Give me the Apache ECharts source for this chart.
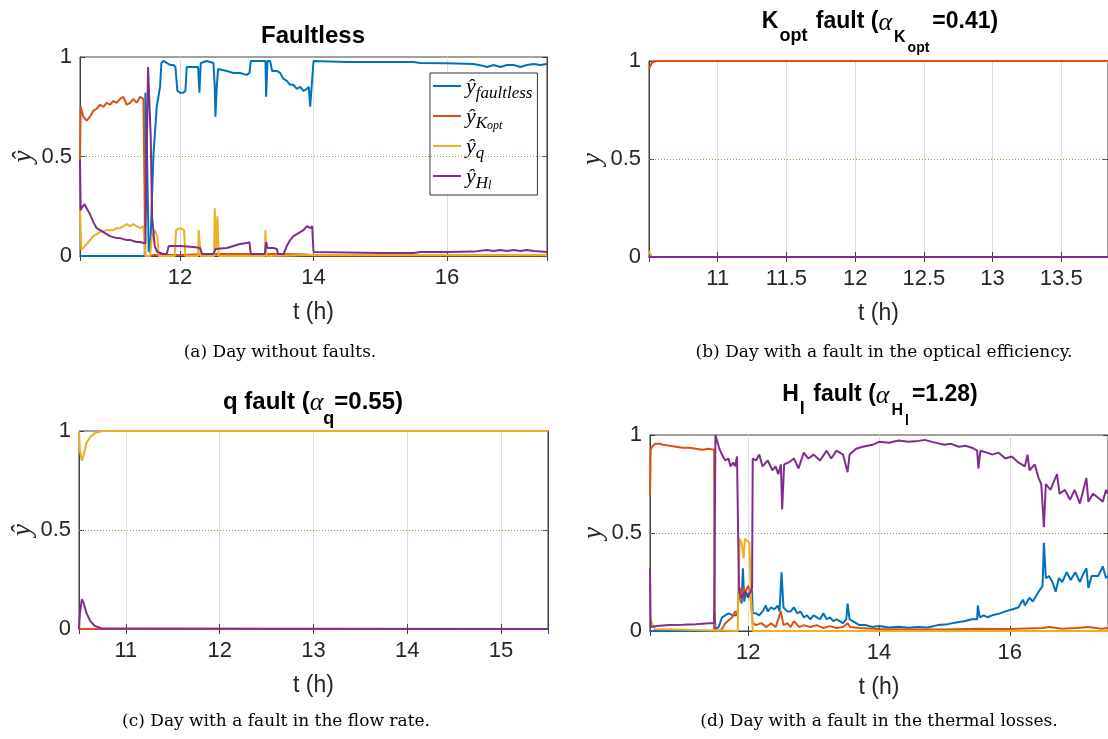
<!DOCTYPE html>
<html>
<head>
<meta charset="utf-8">
<title>Classifier outputs</title>
<script src="https://cdn.jsdelivr.net/npm/echarts@6.0.0/dist/echarts.min.js"></script>
<style>
  html, body { margin: 0; padding: 0; background: #ffffff; }
  #chartContainer { width: 1108px; height: 739px; }
</style>
</head>
<body>
<div id="chartContainer"></div>
<script>
var NAMES = ['faultless', 'Kopt', 'q', 'Hl'];
var COLORS = ['#0072BD', '#D95319', '#EDB120', '#7E2F8E'];
var THRESHOLD = 0.5;

// (a) day without faults
var aFaultless = [[10.5,0],[11.47,0],[11.48,0.82],[11.5,0.6],[11.53,0.02],[11.56,0.1],[11.6,0.5],[11.65,0.75],[11.7,0.85],[11.72,0.97],[11.75,0.98],[11.8,0.97],[11.85,0.96],[11.9,0.96],[11.93,0.95],[11.96,0.83],[12.0,0.82],[12.05,0.82],[12.08,0.83],[12.1,0.95],[12.2,0.95],[12.27,0.95],[12.29,0.82],[12.31,0.97],[12.4,0.98],[12.5,0.97],[12.52,0.85],[12.53,0.7],[12.55,0.85],[12.57,0.94],[12.7,0.93],[12.8,0.92],[12.9,0.92],[13.0,0.91],[13.04,0.92],[13.06,0.98],[13.2,0.98],[13.28,0.98],[13.29,0.8],[13.31,0.98],[13.35,0.98],[13.38,0.93],[13.45,0.93],[13.5,0.92],[13.55,0.89],[13.6,0.88],[13.65,0.86],[13.7,0.86],[13.75,0.84],[13.8,0.85],[13.85,0.83],[13.9,0.84],[13.93,0.85],[13.95,0.75],[13.97,0.84],[13.99,0.85],[14.0,0.98],[14.5,0.975],[15.0,0.975],[15.5,0.975],[15.6,0.97],[16.0,0.968],[16.4,0.965],[16.55,0.955],[16.6,0.95],[16.7,0.96],[16.8,0.95],[16.9,0.96],[17.0,0.96],[17.1,0.95],[17.2,0.96],[17.3,0.965],[17.4,0.96],[17.5,0.965]];
var aKopt = [[10.5,0.48],[10.51,0.75],[10.55,0.7],[10.6,0.68],[10.65,0.7],[10.7,0.73],[10.75,0.74],[10.8,0.76],[10.85,0.75],[10.9,0.77],[10.95,0.76],[11.0,0.78],[11.05,0.77],[11.1,0.79],[11.15,0.8],[11.2,0.76],[11.25,0.77],[11.3,0.79],[11.35,0.77],[11.4,0.8],[11.45,0.79],[11.47,0.8],[11.48,0.0],[11.55,0.0],[11.6,0.005],[12.0,0.005],[12.5,0.01],[13.0,0.01],[13.5,0.01],[13.9,0.008],[14.0,0.003],[17.5,0.003]];
var aQ = [[10.5,0.24],[10.52,0.03],[10.6,0.06],[10.7,0.1],[10.8,0.12],[10.9,0.13],[11.0,0.13],[11.05,0.14],[11.1,0.14],[11.15,0.15],[11.2,0.16],[11.25,0.15],[11.3,0.16],[11.35,0.15],[11.4,0.14],[11.45,0.15],[11.47,0.14],[11.48,0],[11.55,0],[11.58,0.1],[11.62,0.13],[11.66,0.1],[11.68,0],[11.92,0],[11.94,0.13],[12.0,0.14],[12.06,0.13],[12.08,0],[12.27,0],[12.28,0.13],[12.3,0.13],[12.31,0],[12.51,0],[12.52,0.24],[12.54,0.03],[12.56,0.2],[12.58,0],[13.27,0],[13.28,0.13],[13.29,0.02],[13.3,0],[14.0,0.005],[17.5,0.005]];
var aHl = [[10.5,0.48],[10.51,0.23],[10.54,0.25],[10.57,0.26],[10.6,0.24],[10.65,0.21],[10.7,0.17],[10.75,0.14],[10.8,0.13],[10.85,0.12],[10.9,0.11],[10.95,0.1],[11.0,0.095],[11.05,0.09],[11.1,0.09],[11.15,0.085],[11.2,0.08],[11.25,0.08],[11.3,0.075],[11.35,0.07],[11.4,0.07],[11.45,0.065],[11.48,0.065],[11.5,0.5],[11.52,0.95],[11.54,0.95],[11.56,0.6],[11.58,0.2],[11.62,0.05],[11.66,0.02],[11.75,0.01],[11.8,0.01],[11.83,0.05],[12.0,0.05],[12.2,0.045],[12.3,0.04],[12.33,0.01],[12.5,0.01],[12.53,0.035],[12.7,0.04],[12.8,0.05],[12.9,0.06],[13.0,0.065],[13.04,0.07],[13.06,0.01],[13.27,0.01],[13.29,0.07],[13.31,0.04],[13.4,0.04],[13.45,0.035],[13.47,0.01],[13.55,0.01],[13.6,0.05],[13.65,0.08],[13.7,0.1],[13.75,0.11],[13.8,0.12],[13.85,0.13],[13.9,0.15],[13.95,0.14],[13.98,0.15],[14.0,0.02],[14.5,0.018],[15.0,0.015],[15.5,0.015],[15.6,0.02],[16.0,0.02],[16.4,0.022],[16.6,0.03],[16.7,0.025],[16.8,0.03],[16.9,0.025],[17.0,0.03],[17.1,0.025],[17.2,0.03],[17.3,0.025],[17.5,0.02]];

// (b) fault in the optical efficiency
var bFaultless = [[10.5,0],[13.84,0]];
var bKopt = [[10.5,0.96],[10.52,0.99],[10.55,1],[13.84,1]];
var bQ = [[10.5,0.03],[10.52,0],[13.84,0]];
var bHl = [[10.5,0],[13.84,0]];

// (c) fault in the flow rate
var cFaultless = [[10.5,0],[15.5,0]];
var cKopt = [[10.5,0],[15.5,0]];
var cQ = [[10.5,1],[10.51,0.9],[10.53,0.85],[10.55,0.88],[10.58,0.94],[10.62,0.97],[10.67,0.99],[10.75,1],[15.5,1]];
var cHl = [[10.5,0],[10.51,0.08],[10.53,0.15],[10.55,0.13],[10.58,0.08],[10.62,0.04],[10.67,0.015],[10.75,0.002],[15.5,0]];

// (d) fault in the thermal losses
var dFaultless = [[10.5,0],[11.48,0],[11.49,0.09],[11.5,0.01],[11.55,0.02],[11.6,0.07],[11.65,0.08],[11.7,0.09],[11.73,0.1],[11.77,0.08],[11.8,0.09],[11.84,0.08],[11.85,0.16],[11.88,0.18],[11.9,0.14],[11.92,0.32],[11.94,0.15],[11.97,0.2],[12.0,0.17],[12.04,0.22],[12.06,0.2],[12.07,0.09],[12.12,0.09],[12.17,0.08],[12.22,0.1],[12.27,0.13],[12.3,0.1],[12.35,0.12],[12.4,0.11],[12.45,0.13],[12.48,0.1],[12.51,0.3],[12.54,0.12],[12.6,0.1],[12.65,0.1],[12.7,0.12],[12.75,0.09],[12.8,0.1],[12.85,0.07],[12.9,0.08],[12.95,0.06],[13.0,0.08],[13.05,0.07],[13.1,0.06],[13.15,0.09],[13.2,0.06],[13.25,0.07],[13.3,0.05],[13.35,0.06],[13.4,0.05],[13.45,0.04],[13.5,0.06],[13.52,0.14],[13.55,0.06],[13.6,0.05],[13.7,0.03],[13.8,0.03],[13.9,0.02],[14.0,0.025],[14.15,0.018],[14.3,0.022],[14.45,0.016],[14.6,0.02],[14.75,0.018],[14.9,0.03],[15.05,0.035],[15.2,0.045],[15.3,0.05],[15.42,0.06],[15.5,0.06],[15.51,0.13],[15.54,0.07],[15.6,0.08],[15.66,0.07],[15.73,0.08],[15.85,0.09],[15.93,0.1],[16.03,0.11],[16.13,0.12],[16.2,0.16],[16.23,0.13],[16.3,0.17],[16.35,0.15],[16.44,0.2],[16.5,0.23],[16.52,0.45],[16.55,0.27],[16.6,0.28],[16.65,0.25],[16.7,0.2],[16.75,0.27],[16.8,0.25],[16.87,0.3],[16.93,0.26],[17.0,0.3],[17.07,0.25],[17.12,0.29],[17.17,0.32],[17.2,0.22],[17.25,0.28],[17.35,0.28],[17.42,0.33],[17.47,0.27],[17.5,0.28]];
var dKopt = [[10.5,0.69],[10.51,0.92],[10.53,0.94],[10.58,0.955],[10.65,0.955],[10.7,0.95],[10.8,0.945],[10.9,0.94],[11.0,0.935],[11.1,0.935],[11.2,0.93],[11.3,0.925],[11.4,0.93],[11.48,0.925],[11.49,0],[11.55,0],[11.6,0.01],[11.65,0.04],[11.68,0.03],[11.72,0.06],[11.76,0.07],[11.8,0.1],[11.84,0.08],[11.85,0.19],[11.88,0.22],[11.9,0.15],[11.93,0.22],[11.96,0.2],[12.0,0.23],[12.03,0.2],[12.06,0.2],[12.07,0.04],[12.12,0.03],[12.2,0.04],[12.28,0.02],[12.35,0.04],[12.42,0.02],[12.5,0.1],[12.54,0.03],[12.6,0.04],[12.65,0.02],[12.7,0.05],[12.78,0.02],[12.85,0.03],[12.95,0.02],[13.05,0.03],[13.15,0.015],[13.25,0.025],[13.35,0.015],[13.45,0.02],[13.52,0.04],[13.56,0.02],[13.7,0.015],[14.0,0.01],[14.5,0.008],[15.0,0.008],[15.5,0.012],[16.0,0.01],[16.5,0.015],[16.6,0.02],[16.8,0.012],[17.0,0.015],[17.2,0.02],[17.4,0.012],[17.5,0.015]];
var dQ = [[10.5,0.07],[10.53,0.04],[10.57,0.01],[10.6,0],[11.84,0],[11.85,0.18],[11.86,0.18],[11.87,0.47],[11.9,0.45],[11.93,0.37],[11.95,0.47],[11.98,0.46],[12.02,0.45],[12.04,0.2],[12.06,0.2],[12.07,0],[17.5,0]];
var dHl = [[10.5,0.32],[10.51,0.02],[10.6,0.025],[10.8,0.03],[11.0,0.032],[11.2,0.035],[11.4,0.04],[11.48,0.04],[11.5,1.0],[11.52,0.99],[11.56,0.93],[11.6,0.9],[11.65,0.87],[11.7,0.88],[11.73,0.84],[11.77,0.86],[11.8,0.84],[11.83,0.89],[11.85,0.89],[11.86,0.2],[11.9,0.17],[11.95,0.2],[12.0,0.18],[12.04,0.2],[12.06,0.22],[12.07,0.88],[12.12,0.87],[12.17,0.9],[12.22,0.84],[12.3,0.87],[12.37,0.82],[12.42,0.84],[12.46,0.8],[12.5,0.85],[12.52,0.62],[12.55,0.85],[12.62,0.86],[12.7,0.88],[12.77,0.83],[12.85,0.91],[12.92,0.88],[13.0,0.9],[13.1,0.87],[13.2,0.92],[13.27,0.88],[13.35,0.92],[13.45,0.9],[13.52,0.81],[13.55,0.9],[13.65,0.93],[13.75,0.94],[13.9,0.95],[14.0,0.965],[14.15,0.96],[14.3,0.972],[14.45,0.965],[14.6,0.97],[14.7,0.975],[14.81,0.965],[15.0,0.95],[15.1,0.955],[15.22,0.94],[15.32,0.945],[15.42,0.935],[15.5,0.92],[15.52,0.83],[15.55,0.92],[15.65,0.91],[15.73,0.9],[15.83,0.91],[15.93,0.88],[16.03,0.89],[16.13,0.86],[16.23,0.84],[16.27,0.9],[16.3,0.82],[16.38,0.85],[16.44,0.78],[16.48,0.75],[16.52,0.53],[16.55,0.75],[16.62,0.72],[16.72,0.8],[16.76,0.7],[16.84,0.72],[16.92,0.67],[16.99,0.72],[17.07,0.65],[17.17,0.78],[17.2,0.66],[17.27,0.7],[17.35,0.68],[17.42,0.66],[17.47,0.72],[17.5,0.7]];

var PANELS = [
  { rect: { left: 80, top: 57, width: 467, height: 199 }, xMin: 10.5, xMax: 17.5, split: 3, yName: 'ŷ', data: [aFaultless, aKopt, aQ, aHl] },
  { rect: { left: 649, top: 61, width: 461, height: 196 }, xMin: 10.5, xMax: 13.84, split: 7, yName: 'y', data: [bFaultless, bKopt, bQ, bHl] },
  { rect: { left: 79, top: 431, width: 469, height: 198 }, xMin: 10.5, xMax: 15.5, split: 5, yName: 'ŷ', data: [cFaultless, cKopt, cQ, cHl] },
  { rect: { left: 650, top: 435, width: 460, height: 196 }, xMin: 10.5, xMax: 17.5, split: 3, yName: 'y', data: [dFaultless, dKopt, dQ, dHl] }
];

var FRAME = '#404040';
var TEXT = '#262626';

var CHART;
var CHART_OPTION = {
  backgroundColor: '#ffffff',
  animation: false,
  grid: [],
  xAxis: [],
  yAxis: [],
  series: [],
  legend: {
    data: NAMES,
    orient: 'vertical',
    left: 430,
    top: 73,
    icon: 'rect',
    itemWidth: 28,
    itemHeight: 2,
    itemGap: 4,
    padding: [3, 5, 3, 3],
    borderColor: '#333333',
    borderWidth: 1,
    backgroundColor: '#ffffff',
    selectedMode: false,
    formatter: function (name) {
      if (name === 'faultless') return '{y|ŷ}{s|faultless}';
      if (name === 'Kopt') return '{y|ŷ}{s|K}{ss|opt}';
      if (name === 'q') return '{y|ŷ}{s|q}';
      return '{y|ŷ}{s|H}{ss|l}';
    },
    textStyle: {
      color: '#000',
      rich: {
        y: { fontFamily: 'Liberation Serif', fontStyle: 'italic', fontSize: 22, lineHeight: 20, verticalAlign: 'top' },
        s: { fontFamily: 'Liberation Serif', fontStyle: 'italic', fontSize: 17, lineHeight: 14, padding: [9, 0, 0, 0], verticalAlign: 'top' },
        ss: { fontFamily: 'Liberation Serif', fontStyle: 'italic', fontSize: 12, lineHeight: 11, padding: [14, 0, 0, 0], verticalAlign: 'top' }
      }
    }
  },
  graphic: []
};

function buildPanels() {
  PANELS.forEach(function (p, i) {
    CHART_OPTION.grid.push(Object.assign({ show: true, borderColor: FRAME, borderWidth: 1, backgroundColor: '#ffffff' }, p.rect));
    // bottom x axis
    CHART_OPTION.xAxis.push({
      type: 'value', gridIndex: i, min: p.xMin, max: p.xMax, splitNumber: p.split,
      name: 't (h)', nameLocation: 'middle', nameGap: 45,
      nameTextStyle: { fontFamily: 'Liberation Sans', fontSize: 23, color: TEXT },
      axisLine: { show: true, lineStyle: { color: FRAME } },
      axisTick: { show: true, inside: true, length: 5, lineStyle: { color: FRAME } },
      axisLabel: { fontFamily: 'Liberation Sans', fontSize: 22, color: TEXT, margin: 11, showMinLabel: false, showMaxLabel: false },
      splitLine: { show: true, lineStyle: { color: '#dedede', width: 1 } }
    });
    // top x axis (box ticks)
    CHART_OPTION.xAxis.push({
      type: 'value', gridIndex: i, position: 'top', min: p.xMin, max: p.xMax, splitNumber: p.split,
      axisLine: { show: true, lineStyle: { color: FRAME } },
      axisTick: { show: true, inside: true, length: 5, lineStyle: { color: FRAME } },
      axisLabel: { show: false }, splitLine: { show: false }
    });
    CHART_OPTION.yAxis.push({
      type: 'value', gridIndex: i, min: 0, max: 1, interval: 0.5,
      name: p.yName, nameLocation: 'middle', nameGap: 38, nameRotate: 90,
      nameTextStyle: { fontFamily: 'Liberation Serif', fontStyle: 'italic', fontSize: 27, color: TEXT },
      axisLine: { show: true, lineStyle: { color: FRAME } },
      axisTick: { show: true, inside: true, length: 5, lineStyle: { color: FRAME } },
      axisLabel: { fontFamily: 'Liberation Sans', fontSize: 22, color: TEXT, margin: 8 },
      splitLine: { show: false }
    });
    CHART_OPTION.yAxis.push({
      type: 'value', gridIndex: i, position: 'right', min: 0, max: 1, interval: 0.5,
      axisLine: { show: true, lineStyle: { color: FRAME } },
      axisTick: { show: true, inside: true, length: 5, lineStyle: { color: FRAME } },
      axisLabel: { show: false }, splitLine: { show: false }
    });
    p.data.forEach(function (values, k) {
      var s = {
        name: NAMES[k], type: 'line', xAxisIndex: 2 * i, yAxisIndex: 2 * i,
        data: values, showSymbol: false, symbol: 'none', clip: true,
        color: COLORS[k], lineStyle: { width: 2, color: COLORS[k] }, z: 3 + k
      };
      if (k === 0) {
        s.markLine = {
          silent: true, symbol: ['none', 'none'], label: { show: false },
          lineStyle: { type: [1, 2], color: '#77AC30', width: 1 },
          data: [{ yAxis: THRESHOLD }]
        };
      }
      CHART_OPTION.series.push(s);
    });
  });
}

function titleText(x, y, text, rich) {
  return { type: 'text', x: x, y: y, z: 100, style: { text: text, rich: rich, align: 'center', verticalAlign: 'top', fill: '#000' } };
}

function captionText(x, y, text) {
  return { type: 'text', x: x, y: y, z: 100, style: { text: text, align: 'center', verticalAlign: 'middle', fill: '#000', fontFamily: 'DejaVu Serif', fontSize: 17 } };
}

var BIG = {
  m: { fontFamily: 'Liberation Sans', fontWeight: 'bold', fontSize: 24, lineHeight: 28, verticalAlign: 'top' },
  a: { fontFamily: 'Liberation Serif', fontStyle: 'italic', fontSize: 26, lineHeight: 28, verticalAlign: 'top' },
  s: { fontFamily: 'Liberation Sans', fontWeight: 'bold', fontSize: 18, lineHeight: 18, padding: [20, 0, 0, 0], verticalAlign: 'top' }
};
var SMALL = {
  m: { fontFamily: 'Liberation Sans', fontWeight: 'bold', fontSize: 23, lineHeight: 24, verticalAlign: 'top' },
  a: { fontFamily: 'Liberation Serif', fontStyle: 'italic', fontSize: 26, lineHeight: 24, verticalAlign: 'top' },
  s: { fontFamily: 'Liberation Sans', fontWeight: 'bold', fontSize: 18, lineHeight: 16, padding: [17, 2, 0, 1], verticalAlign: 'top' },
  t: { fontFamily: 'Liberation Sans', fontWeight: 'bold', fontSize: 16, lineHeight: 15, padding: [20, 1, 0, 2], verticalAlign: 'top' },
  u: { fontFamily: 'Liberation Sans', fontWeight: 'bold', fontSize: 14, lineHeight: 13, padding: [31, 3, 0, 1], verticalAlign: 'top' }
};

function buildTexts() {
  CHART_OPTION.graphic = [
    titleText(313, 24, '{m|Faultless}', BIG),
    titleText(880, 10, '{m|K}{s|opt}{m| fault (}{a|α}{t|K}{u|opt}{m|=0.41)}', SMALL),
    titleText(313, 390, '{m|q fault (}{a|α}{s|q}{m|=0.55)}', BIG),
    titleText(880, 383, '{m|H}{s|l}{m| fault (}{a|α}{t|H}{u|l}{m|=1.28)}', SMALL),
    captionText(280, 353, '(a) Day without faults.'),
    captionText(884, 353, '(b) Day with a fault in the optical efficiency.'),
    captionText(276, 722, '(c) Day with a fault in the flow rate.'),
    captionText(879, 722, '(d) Day with a fault in the thermal losses.')
  ];
}

window.onload = _ => {
  buildPanels();
  buildTexts();
  CHART = echarts.init(document.getElementById('chartContainer'), null, { renderer: 'canvas' });
  CHART.setOption(CHART_OPTION);
};
</script>
</body>
</html>
